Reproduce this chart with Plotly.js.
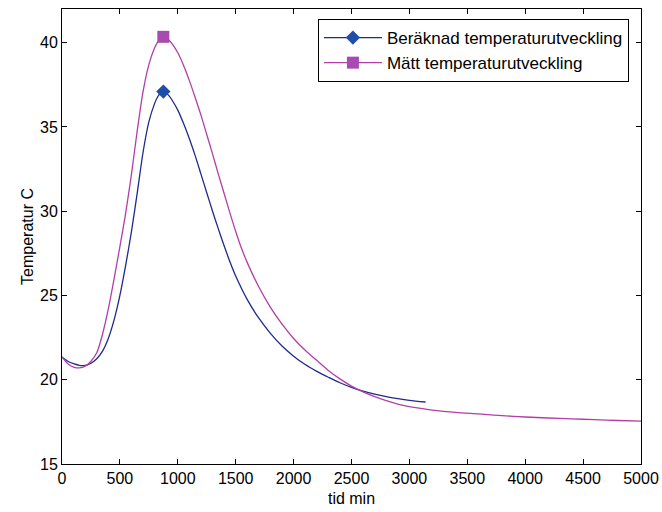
<!DOCTYPE html>
<html>
<head>
<meta charset="utf-8">
<script src="https://cdn.plot.ly/plotly-3.0.1.min.js"></script>
<style>html,body{margin:0;padding:0;background:#fff;}#chart{width:662px;height:512px;}</style>
</head>
<body>
<div id="chart"></div>
<script>
// Beräknad temperaturutveckling (calculated)
const tidBeraknad = [0,50,100,150,200,250,300,350,400,450,500,550,600,650,700,750,800,825,850,875,900,925,950,1000,1050,1100,1150,1200,1250,1300,1350,1400,1450,1500,1600,1700,1800,1900,2000,2100,2200,2300,2400,2500,2600,2700,2800,2900,3000,3140];
const tempBeraknad = [21.35,21.1,20.95,20.85,20.85,20.98,21.25,21.7,22.45,23.55,25.0,26.8,28.8,31.1,33.5,35.3,36.4,36.78,37.0,37.1,37.02,36.85,36.6,36.0,35.2,34.3,33.3,32.2,31.1,30.0,28.95,27.95,27.0,26.15,24.75,23.65,22.75,22.0,21.4,20.9,20.5,20.15,19.82,19.55,19.33,19.15,19.0,18.88,18.78,18.68];

// Mätt temperaturutveckling (measured)
const tidMatt = [0,50,100,150,200,250,300,350,400,450,500,550,600,650,700,750,800,825,850,875,900,925,950,1000,1050,1100,1150,1200,1250,1300,1350,1400,1450,1500,1550,1600,1700,1800,1900,2000,2100,2200,2300,2400,2500,2600,2700,2800,2900,3000,3200,3400,3600,3800,4000,4200,4400,4600,4800,5000];
const tempMatt = [21.35,20.95,20.75,20.7,20.8,21.1,21.6,22.7,24.2,26.0,27.9,29.9,32.2,34.8,37.1,38.7,39.7,40.02,40.25,40.35,40.3,40.15,39.95,39.4,38.65,37.75,36.75,35.7,34.55,33.4,32.2,31.05,29.9,28.8,27.8,26.95,25.5,24.3,23.3,22.45,21.75,21.15,20.55,20.05,19.62,19.28,19.0,18.76,18.56,18.4,18.2,18.06,17.97,17.87,17.79,17.73,17.68,17.63,17.58,17.55];

const seriesNames = ['Beräknad temperaturutveckling', 'Mätt temperaturutveckling'];
const xTicks = [0,500,1000,1500,2000,2500,3000,3500,4000,4500,5000];
const yTicks = [15,20,25,30,35,40];

function peakIndex(arr){ let m = 0; for (let i=1;i<arr.length;i++) if (arr[i]>arr[m]) m=i; return m; }
const pb = peakIndex(tempBeraknad), pm = peakIndex(tempMatt);

const blueLine = '#1f2a8a', blueMarker = '#1f4ea8';
const magLine = '#b23fa6', magMarker = '#a84bb0';
const fnt = 'Liberation Sans, Arial, sans-serif';

const traces = [
  {x: tidBeraknad, y: tempBeraknad, mode: 'lines', line: {color: blueLine, width: 1.3, shape: 'spline', smoothing: 0.8}, showlegend: false, hoverinfo: 'skip'},
  {x: tidMatt, y: tempMatt, mode: 'lines', line: {color: magLine, width: 1.3, shape: 'spline', smoothing: 0.8}, showlegend: false, hoverinfo: 'skip'},
  {x: [tidBeraknad[pb]], y: [tempBeraknad[pb]], mode: 'lines+markers', name: seriesNames[0],
   line: {color: blueLine, width: 1.3}, marker: {symbol: 'diamond', size: 11, color: blueMarker}},
  {x: [tidMatt[pm]], y: [tempMatt[pm]], mode: 'lines+markers', name: seriesNames[1],
   line: {color: magLine, width: 1.3}, marker: {symbol: 'square', size: 12, color: magMarker}}
];

const axisCommon = {
  showline: true, linecolor: '#000', linewidth: 1, mirror: 'ticks',
  ticks: 'inside', ticklen: 5, tickcolor: '#000', tickwidth: 1,
  showgrid: false, zeroline: false,
  tickfont: {family: fnt, size: 16, color: '#000'}
};

const layout = {
  width: 662, height: 512,
  margin: {l: 62, r: 21, t: 9, b: 48},
  paper_bgcolor: '#fff', plot_bgcolor: '#fff',
  font: {family: fnt, color: '#000'},
  xaxis: Object.assign({}, axisCommon, {
    range: [0, 5000], tickvals: xTicks, ticktext: xTicks.map(String),
    title: {text: 'tid min', font: {family: fnt, size: 16, color: '#000'}, standoff: 6}
  }),
  yaxis: Object.assign({}, axisCommon, {
    range: [15, 42], tickvals: yTicks, ticktext: yTicks.map(String),
    title: {text: 'Temperatur C', font: {family: fnt, size: 16, color: '#000'}, standoff: 2}
  }),
  legend: {
    x: 0.442, y: 0.978, xanchor: 'left', yanchor: 'top',
    bgcolor: '#fff', bordercolor: '#000', borderwidth: 1,
    font: {family: fnt, size: 17, color: '#000'},
    itemwidth: 58,
    tracegroupgap: 0
  },
  showlegend: true
};

Plotly.newPlot('chart', traces, layout, {displayModeBar: false, staticPlot: true});
</script>
</body>
</html>
